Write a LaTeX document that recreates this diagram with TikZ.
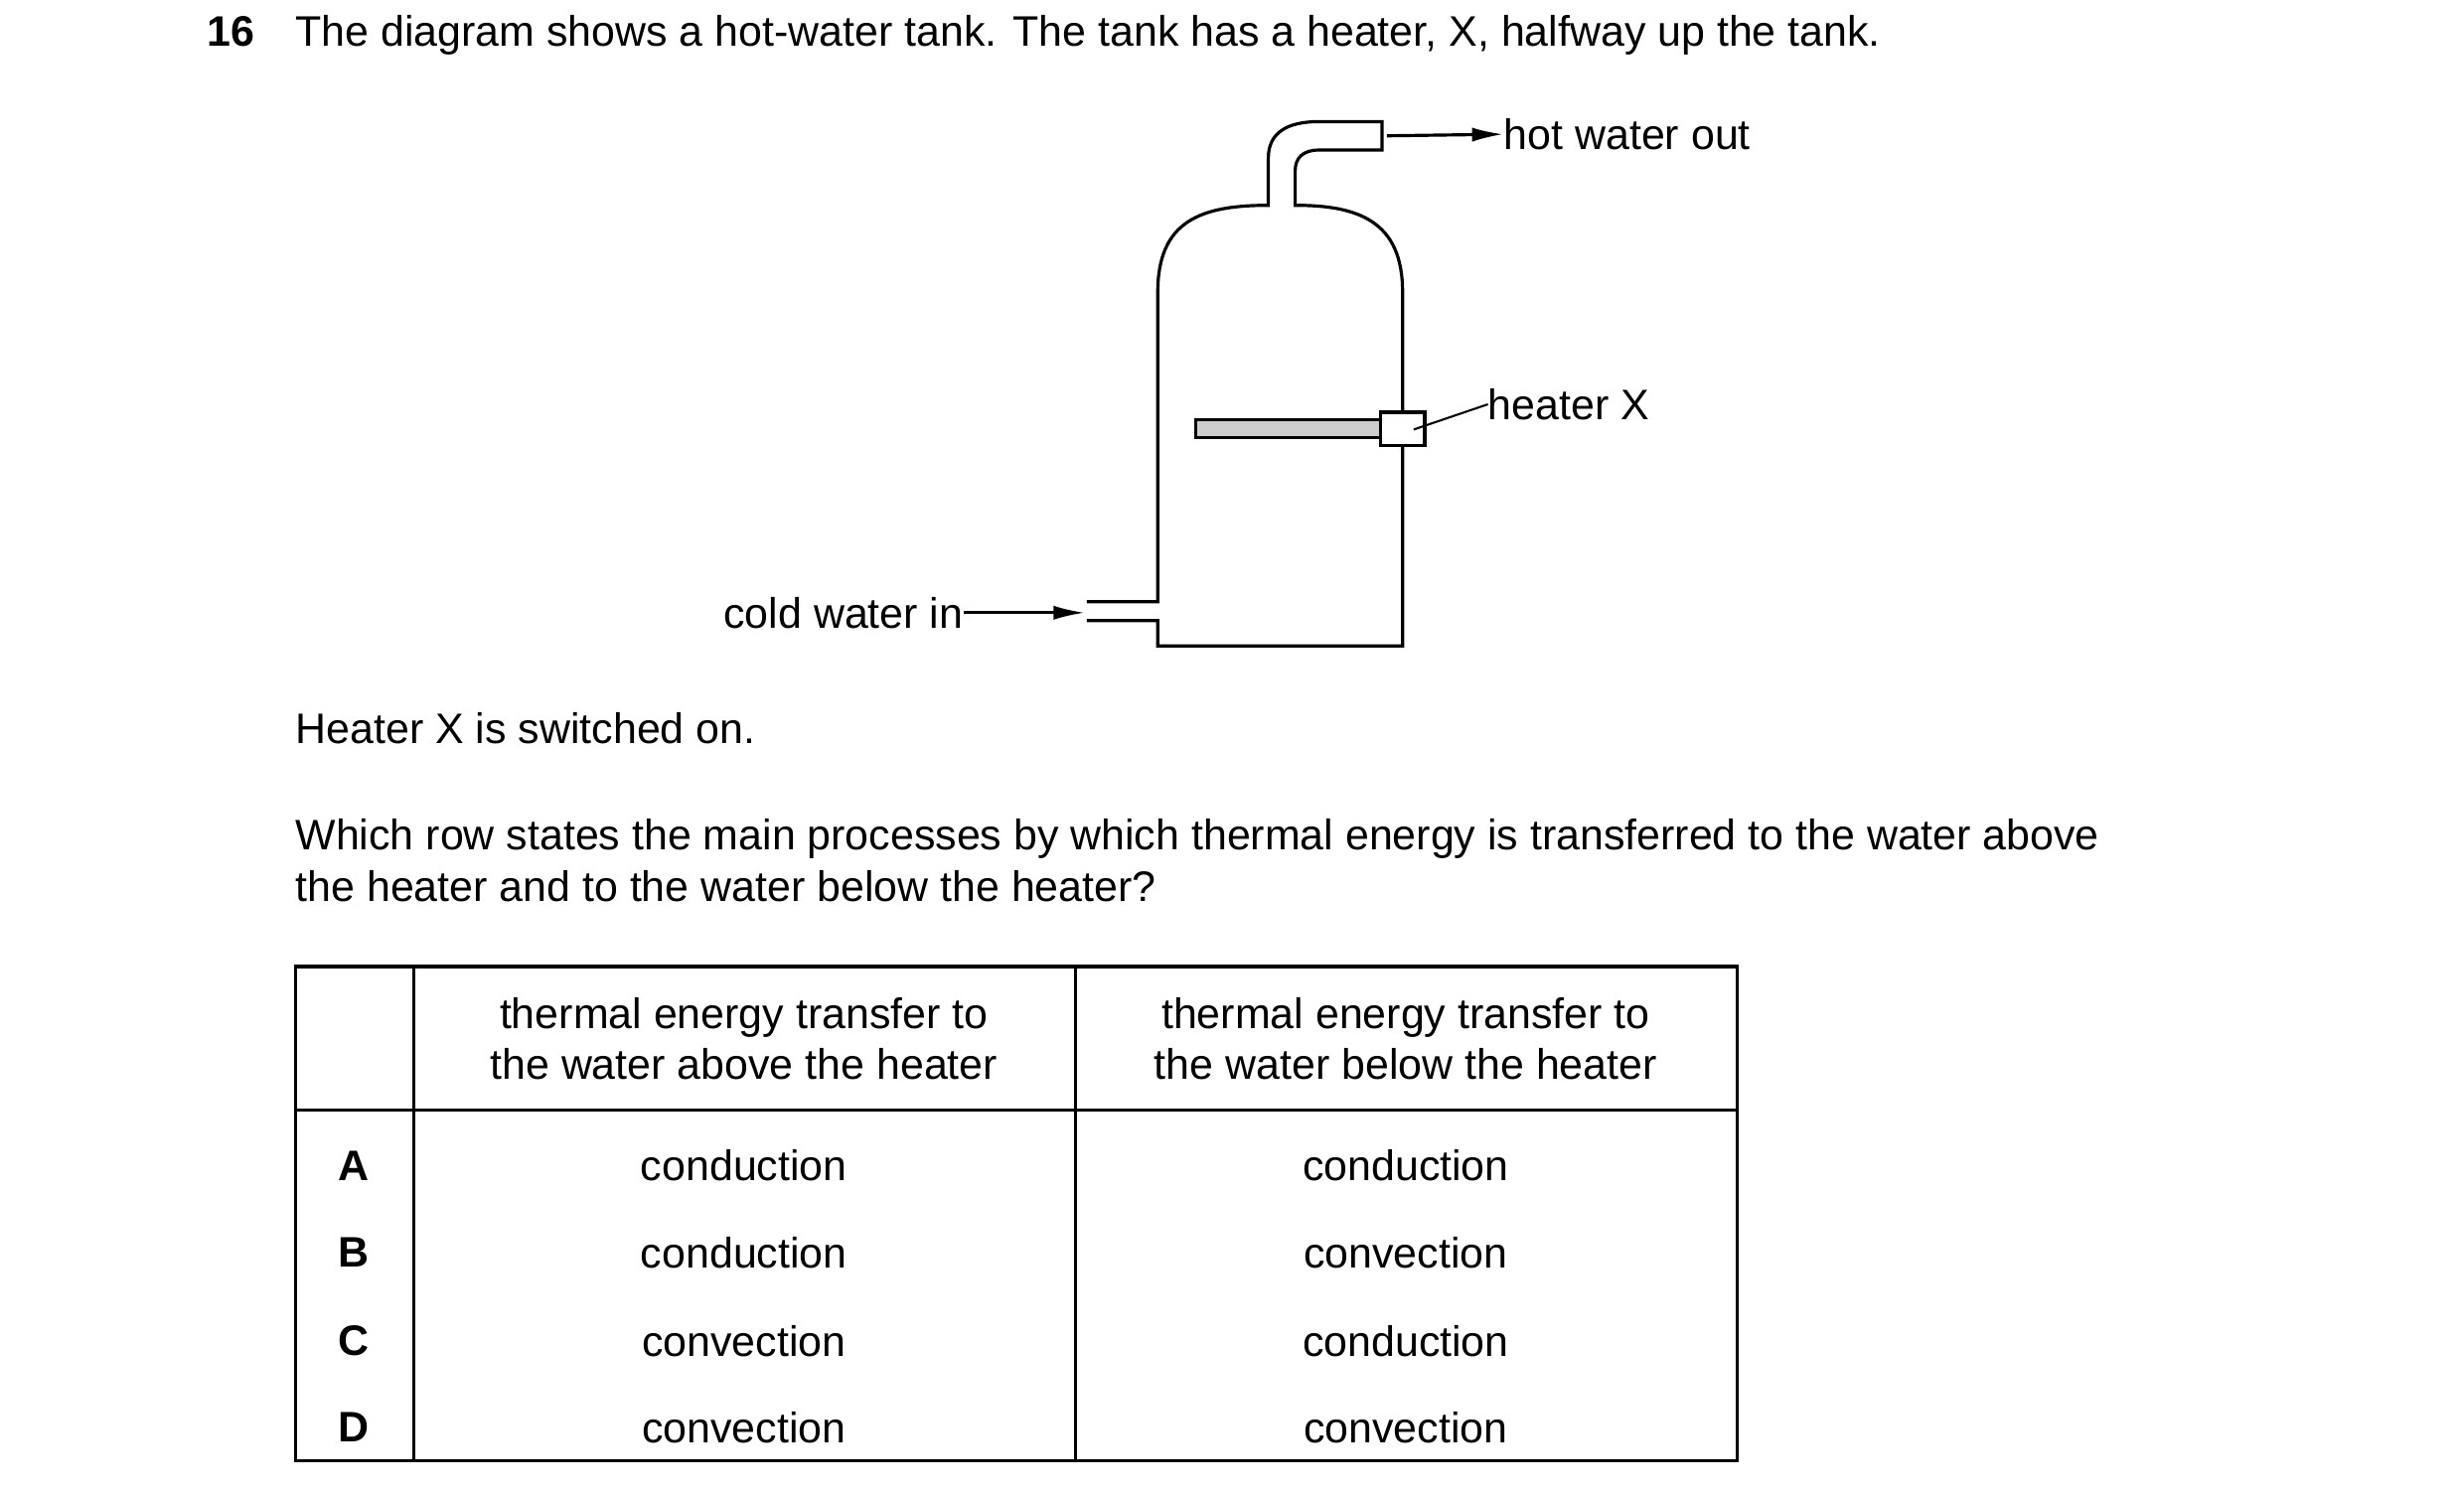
\documentclass[tikz,border=0pt]{standalone}
\usepackage{fontspec}
\setmainfont{Liberation Sans}
\usetikzlibrary{arrows.meta}
\begin{document}
\begin{tikzpicture}[x=1pt,y=-1pt,
  txt/.style={inner sep=0pt,font=\fontsize{27}{32}\selectfont},
  ln/.style={line width=2pt},
  arr/.style={ln,-{Latex[length=20pt,width=9pt]}}]
\useasboundingbox (0,0) rectangle (1560,946);
% question
\node[txt,anchor=base west,font=\fontsize{27}{32}\selectfont\bfseries] (num) at (131,29) {16};
\node[txt,anchor=base west] (q) at (187,29) {The diagram shows a hot-water tank. The tank has a heater, X, halfway up the tank.};
% tank
\draw[ln] (688,381) -- (733,381) -- (733,185) .. controls (733,140) and (760,130) .. (803,130) -- (803,100) .. controls (803,84) and (815,77) .. (835,77) -- (875,77) -- (875,95) -- (835,95) .. controls (825,95) and (820,100) .. (820,108) -- (820,130) .. controls (860,130) and (888,140) .. (888,185) -- (888,409) -- (733,409) -- (733,393) -- (688,393);
\draw[ln,fill=gray!40] (757,266) rectangle (874,277);
\draw[ln,fill=white] (874,261) rectangle (902,282);
\coordinate (hx) at (895,272);
\node[txt,anchor=west] (hl) at (942,256) {heater X};
\draw[line width=1.3pt] (hx) -- (hl.west);
\coordinate (hw) at (878,86);
\node[txt,anchor=west] (hot) at (952,85) {hot water out};
\draw[arr] (hw) -- (hot.west);
\node[txt,anchor=east] (cold) at (610,388) {cold water in};
\coordinate (ci) at (687,388);
\draw[arr] (cold.east) -- (ci);
% text
\node[txt,anchor=base west] (t1) at (187,471) {Heater X is switched on.};
\node[txt,anchor=base west] (t2) at (187,538) {Which row states the main processes by which thermal energy is transferred to the water above};
\node[txt,anchor=base west] (t3) at (187,571) {the heater and to the water below the heater?};
% table
\draw[ln] (187,612) rectangle (1100,925);
\draw[ln] (187,703) -- (1100,703);
\draw[ln] (262,612) -- (262,925);
\draw[ln] (681,612) -- (681,925);
\node[txt,align=center] (h1) at (471,658) {thermal energy transfer to\\the water above the heater};
\node[txt,align=center] (h2) at (890,658) {thermal energy transfer to\\the water below the heater};
\foreach \l/\a/\b/\y in {A/conduction/conduction/738,B/conduction/convection/793,C/convection/conduction/849,D/convection/convection/904}{
  \node[txt,font=\fontsize{27}{32}\selectfont\bfseries] (r\l) at (224,\y) {\l};
  \node[txt] (a\l) at (471,\y) {\a};
  \node[txt] (b\l) at (890,\y) {\b};
}
\end{tikzpicture}
\end{document}
